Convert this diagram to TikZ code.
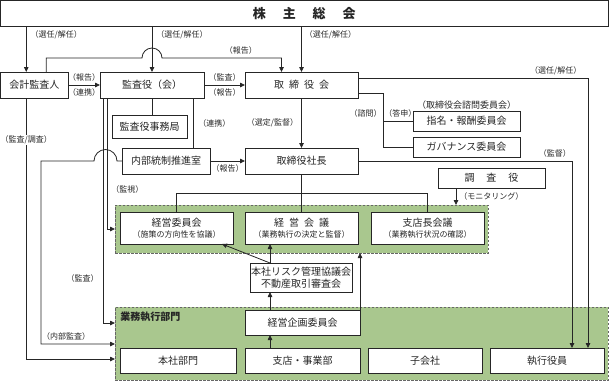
\documentclass[tikz,border=0pt]{standalone}
\usepackage{fontspec}
\setmainfont{Noto Sans CJK JP}
\usetikzlibrary{arrows.meta,calc}
\definecolor{grpgreen}{HTML}{A9C78E}

\begin{document}
\begin{tikzpicture}[x=1pt, y=-1pt, >={Triangle[length=5pt,width=4.5pt]}, line width=0.8pt, color=black!85,
  box/.style={draw, fill=white, inner sep=0pt, outer sep=0pt, align=center, font=\fontsize{10}{12}\selectfont},
  grp/.style={draw=black!60, dash pattern=on 2.5pt off 1.5pt, fill=grpgreen, inner sep=0pt, outer sep=0pt},
  lbl/.style={font=\fontsize{8}{9}\selectfont, inner sep=1pt}]
  \useasboundingbox (0,0) rectangle (612,381);
  \node[grp, minimum width=373pt, minimum height=48pt] (g1) at (301.5,229) {};
  \node[grp, minimum width=493pt, minimum height=73pt] (g2) at (361.5,343.5) {};
  \node[anchor=north west, inner sep=0pt, font=\fontsize{10}{12}\selectfont\bfseries] (gyomu) at (120,312) {業務執行部門};

  \node[box, minimum width=607.5pt, minimum height=25.5pt, font=\fontsize{13}{15}\selectfont\bfseries] (sou) at (304.25,13.25) {株\hspace{1.3em}主\hspace{1.3em}総\hspace{1.3em}会};
  \node[box, minimum width=67.5pt, minimum height=26pt] (kai) at (34.25,85) {会計監査人};
  \node[box, minimum width=104pt, minimum height=26pt] (kan) at (152,85) {監査役（会）};
  \node[box, minimum width=113pt, minimum height=26pt] (tri) at (301.5,85) {取\hspace{0.5em}締\hspace{0.5em}役\hspace{0.5em}会};
  \node[box, minimum width=75pt, minimum height=23pt] (jim) at (149.5,126.5) {監査役事務局};
  \node[box, minimum width=88pt, minimum height=26pt] (nai) at (166,161) {内部統制推進室};
  \node[box, minimum width=113pt, minimum height=26pt] (sha) at (301.5,161) {取締役社長};
  \node[box, minimum width=107pt, minimum height=20pt,
    label={[lbl, font=\fontsize{9}{11}\selectfont]above:（取締役会諮問委員会）}] (shi) at (466.5,121) {指名・報酬委員会};
  \node[box, minimum width=107pt, minimum height=20pt] (gov) at (466.5,147) {ガバナンス委員会};
  \node[box, minimum width=107pt, minimum height=20pt] (cho) at (491.5,178) {調\hspace{1.2em}査\hspace{1.2em}役};

  \node[box, minimum width=113pt, minimum height=32pt] (iin) at (176.5,228) {経営委員会\\[-1pt]{\fontsize{8}{10}\selectfont （施策の方向性を協議）}};
  \node[box, minimum width=113pt, minimum height=32pt] (kgi) at (301.5,228) {経\hspace{0.5em}営\hspace{0.5em}会\hspace{0.5em}議\\[-1pt]{\fontsize{8}{10}\selectfont （業務執行の決定と監督）}};
  \node[box, minimum width=113pt, minimum height=32pt] (stn) at (427.5,228) {支店長会議\\[-1pt]{\fontsize{8}{10}\selectfont （業務執行状況の確認）}};
  \node[box, minimum width=102pt, minimum height=29pt] (rsk) at (301,277.5) {本社リスク管理協議会\\不動産取引審査会};
  \node[box, minimum width=115pt, minimum height=25pt] (kik) at (302.5,322.5) {経営企画委員会};
  \node[box, minimum width=116pt, minimum height=25pt] (hon) at (178,360.5) {本社部門};
  \node[box, minimum width=115pt, minimum height=25pt] (jig) at (302.5,360.5) {支店・事業部};
  \node[box, minimum width=114pt, minimum height=25pt] (ko) at (425,360.5) {子会社};
  \node[box, minimum width=114pt, minimum height=25pt] (shk) at (547,360.5) {執行役員};
  \coordinate (kcol) at (270,0);

  \draw[->] ([xshift=-8pt]kai.north |- sou.south) -- ([xshift=-8pt]kai.north) node[lbl, pos=0.2, right=3pt] {（選任/解任）};
  \draw[->] (kan.north |- sou.south) -- (kan.north) node[lbl, pos=0.2, right=3pt] {（選任/解任）};
  \draw[->] (tri.north |- sou.south) -- (tri.north) node[lbl, pos=0.2, right=2pt] {（選任/解任）};
  \draw[->] ([xshift=12pt]kai.north) |- ([xshift=-10pt]kan.north |- 0,58) arc[start angle=180, end angle=360, radius=10]
    -| ([xshift=-20pt]tri.north) node[lbl, pos=0.33, above=2pt] {（報告）};
  \draw[->] (kai.east) -- (kan.west) node[lbl, midway, above=2pt] {（報告）} node[lbl, midway, below=2pt] {（連携）};
  \draw[->] (kan.east) -- (tri.west) node[lbl, midway, above=2pt] {（監査）} node[lbl, midway, below=2pt] {（報告）};
  \draw (kan.south) -- (kan.south |- jim.north);
  \draw ([xshift=41pt]kan.south) -- ([xshift=41pt]kan.south |- nai.north) node[lbl, midway, right=4pt] {（連携）};
  \draw[->] (nai.east) -- (nai.east -| sha.west) node[lbl, midway, below=2pt] {（報告）};
  \draw[->] (tri.south) -- (sha.north) node[lbl, midway, left=2pt] {（選定/監督）};
  \draw (tri.east |- 0,93) -| ([xshift=-30pt]gov.west) node[lbl, pos=0.685, left=0pt] {（諮問）} node[lbl, pos=0.685, right=0pt] {（答申）} -- (gov.west);
  \draw ([xshift=-30pt]shi.west) -- (shi.west);
  \draw[->] (tri.east |- 0,78) -| ([xshift=41pt]shk.north) node[lbl, pos=0.43, above=2pt] {（選任/解任）};
  \draw[->] (sha.east) -| ([xshift=25pt]shk.north) node[lbl, pos=0.46, above=2pt] {（監督）};
  \draw (sha.south) -- (kgi.north);
  \draw (iin.north) -- ++(0,-19) -| (stn.north);
  \draw[->] ([xshift=-35.5pt]cho.south) -- ([xshift=-35.5pt]cho.south |- g1.north) node[lbl, midway, right=2pt] {（モニタリング）};
  \draw[->] ([xshift=-45pt]kan.south) |- (g1.west) node[lbl, pos=0.35, right=3pt] {（監視）};
  \draw[->] ([xshift=-49pt]kan.south) |- (g2.west |- 0,323) node[lbl, pos=0.4, left=3pt] {（監査）};
  \draw[->] (nai.west) -- ([xshift=-5pt]nai.west) arc[start angle=0, end angle=-180, radius=11.5] -- (41,161)
    |- (g2.west |- 0,344) node[lbl, pos=0.67, above=2pt] {（内部監査）};
  \draw[->] ([xshift=-8pt]kai.south) |- (g2.west |- 0,359) node[lbl, pos=0.08, fill=white] {（監査/調査）};
  \draw[->] (rsk.north -| kcol) -- ([xshift=45.5pt]iin.south);
  \draw[->] (rsk.north -| kcol) -- (kgi.south -| kcol);
  \draw[->] (kik.north -| kcol) -- (rsk.south -| kcol);
  \draw[->] (jig.north -| kcol) -- (kik.south -| kcol);
  \draw[->] (kik.north east) -- (kik.north east |- g1.south);
\end{tikzpicture}
\end{document}
